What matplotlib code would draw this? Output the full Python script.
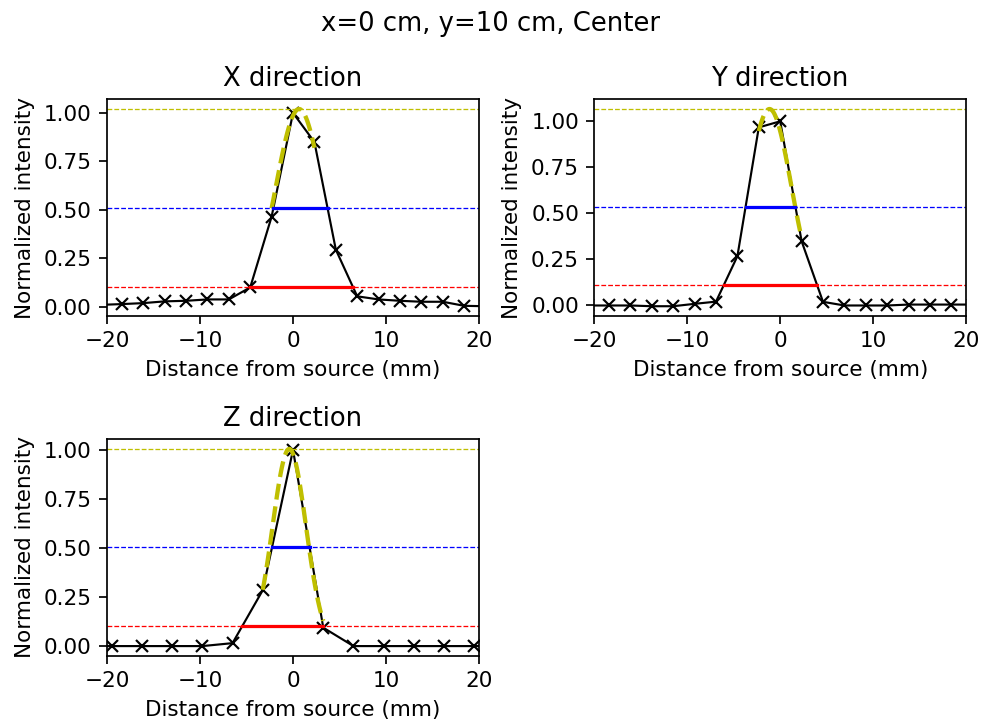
import numpy as np
import matplotlib.pyplot as plt

# sample positions (mm) and normalized intensities for each direction
x_pos = [-20.7, -18.4, -16.1, -13.8, -11.5, -9.2, -6.9, -4.6, -2.3, 0.0,
         2.3, 4.6, 6.9, 9.2, 11.5, 13.8, 16.1, 18.4, 20.7]
x_int = [0.010, 0.014, 0.019, 0.028, 0.031, 0.038, 0.038, 0.100, 0.465, 1.000,
         0.850, 0.295, 0.054, 0.038, 0.031, 0.026, 0.026, 0.005, 0.003]

y_pos = [-20.7, -18.4, -16.1, -13.8, -11.5, -9.2, -6.9, -4.6, -2.3, 0.0,
         2.3, 4.6, 6.9, 9.2, 11.5, 13.8, 16.1, 18.4, 20.7]
y_int = [-0.005, -0.005, -0.005, -0.009, -0.009, 0.004, 0.016, 0.264, 0.967, 1.000,
         0.346, 0.015, -0.005, -0.005, -0.005, 0.000, 0.000, 0.000, 0.000]

z_pos = [-22.75, -19.5, -16.25, -13.0, -9.75, -6.5, -3.25, 0.0,
         3.25, 6.5, 9.75, 13.0, 16.25, 19.5, 22.75]
z_int = [0.0, 0.0, 0.0, 0.0, 0.0, 0.015, 0.285, 1.000,
         0.094, 0.0, 0.0, 0.0, 0.0, 0.0, 0.0]

# gaussian fit parameters (amplitude, centre, sigma)
fit_x = [1.02, 0.65, 2.5]
fit_y = [1.067, -1.15, 2.35]
fit_z = [1.005, -0.4, 1.8]

titles = ["X direction", "Y direction", "Z direction"]


def crossings(pos, val, level):
    pos = np.array(pos)
    val = np.array(val)
    i = int(np.argmax(val))
    j = i
    while j > 0 and val[j - 1] >= level:
        j -= 1
    left = np.interp(level, [val[j - 1], val[j]], [pos[j - 1], pos[j]])
    k = i
    while k < len(val) - 1 and val[k + 1] >= level:
        k += 1
    right = np.interp(level, [val[k + 1], val[k]], [pos[k + 1], pos[k]])
    return left, right


def draw(ax, pos, val, fit, title):
    a, mu, sig = fit
    ax.plot(pos, val, color='k', ls='-', marker='x', markersize=6, lw=1)
    i = int(np.argmax(val))
    g = np.linspace(pos[i - 1], pos[i + 1], 100)
    ax.plot(g, a * np.exp(-(g - mu) ** 2 / (2 * sig ** 2)), color='y', ls='--', lw=2)
    ax.axhline(a, color='y', ls='--', lw=0.6)
    ax.axhline(a / 2, color='b', ls='--', lw=0.6)
    ax.axhline(a / 10, color='r', ls='--', lw=0.6)
    l, r = crossings(pos, val, a / 2)
    ax.plot([l, r], [a / 2, a / 2], color='b', ls='-', lw=1.5)
    l, r = crossings(pos, val, a / 10)
    ax.plot([l, r], [a / 10, a / 10], color='r', ls='-', lw=1.5)
    ax.set_xlim(-20, 20)
    ax.set_title(title)
    ax.set_xlabel("Distance from source (mm)")
    ax.set_ylabel("Normalized intensity")


fig, axs = plt.subplots(2, 2, figsize=(981 / 155, 724 / 155), dpi=155)
draw(axs[0, 0], x_pos, x_int, fit_x, titles[0])
draw(axs[0, 1], y_pos, y_int, fit_y, titles[1])
draw(axs[1, 0], z_pos, z_int, fit_z, titles[2])
axs[1, 1].axis('off')
fig.suptitle("x=0 cm, y=10 cm, Center", y=0.985)
fig.subplots_adjust(left=0.109, right=0.985, top=0.863, bottom=0.094,
                    wspace=0.309, hspace=0.567)
plt.savefig("out.png")
